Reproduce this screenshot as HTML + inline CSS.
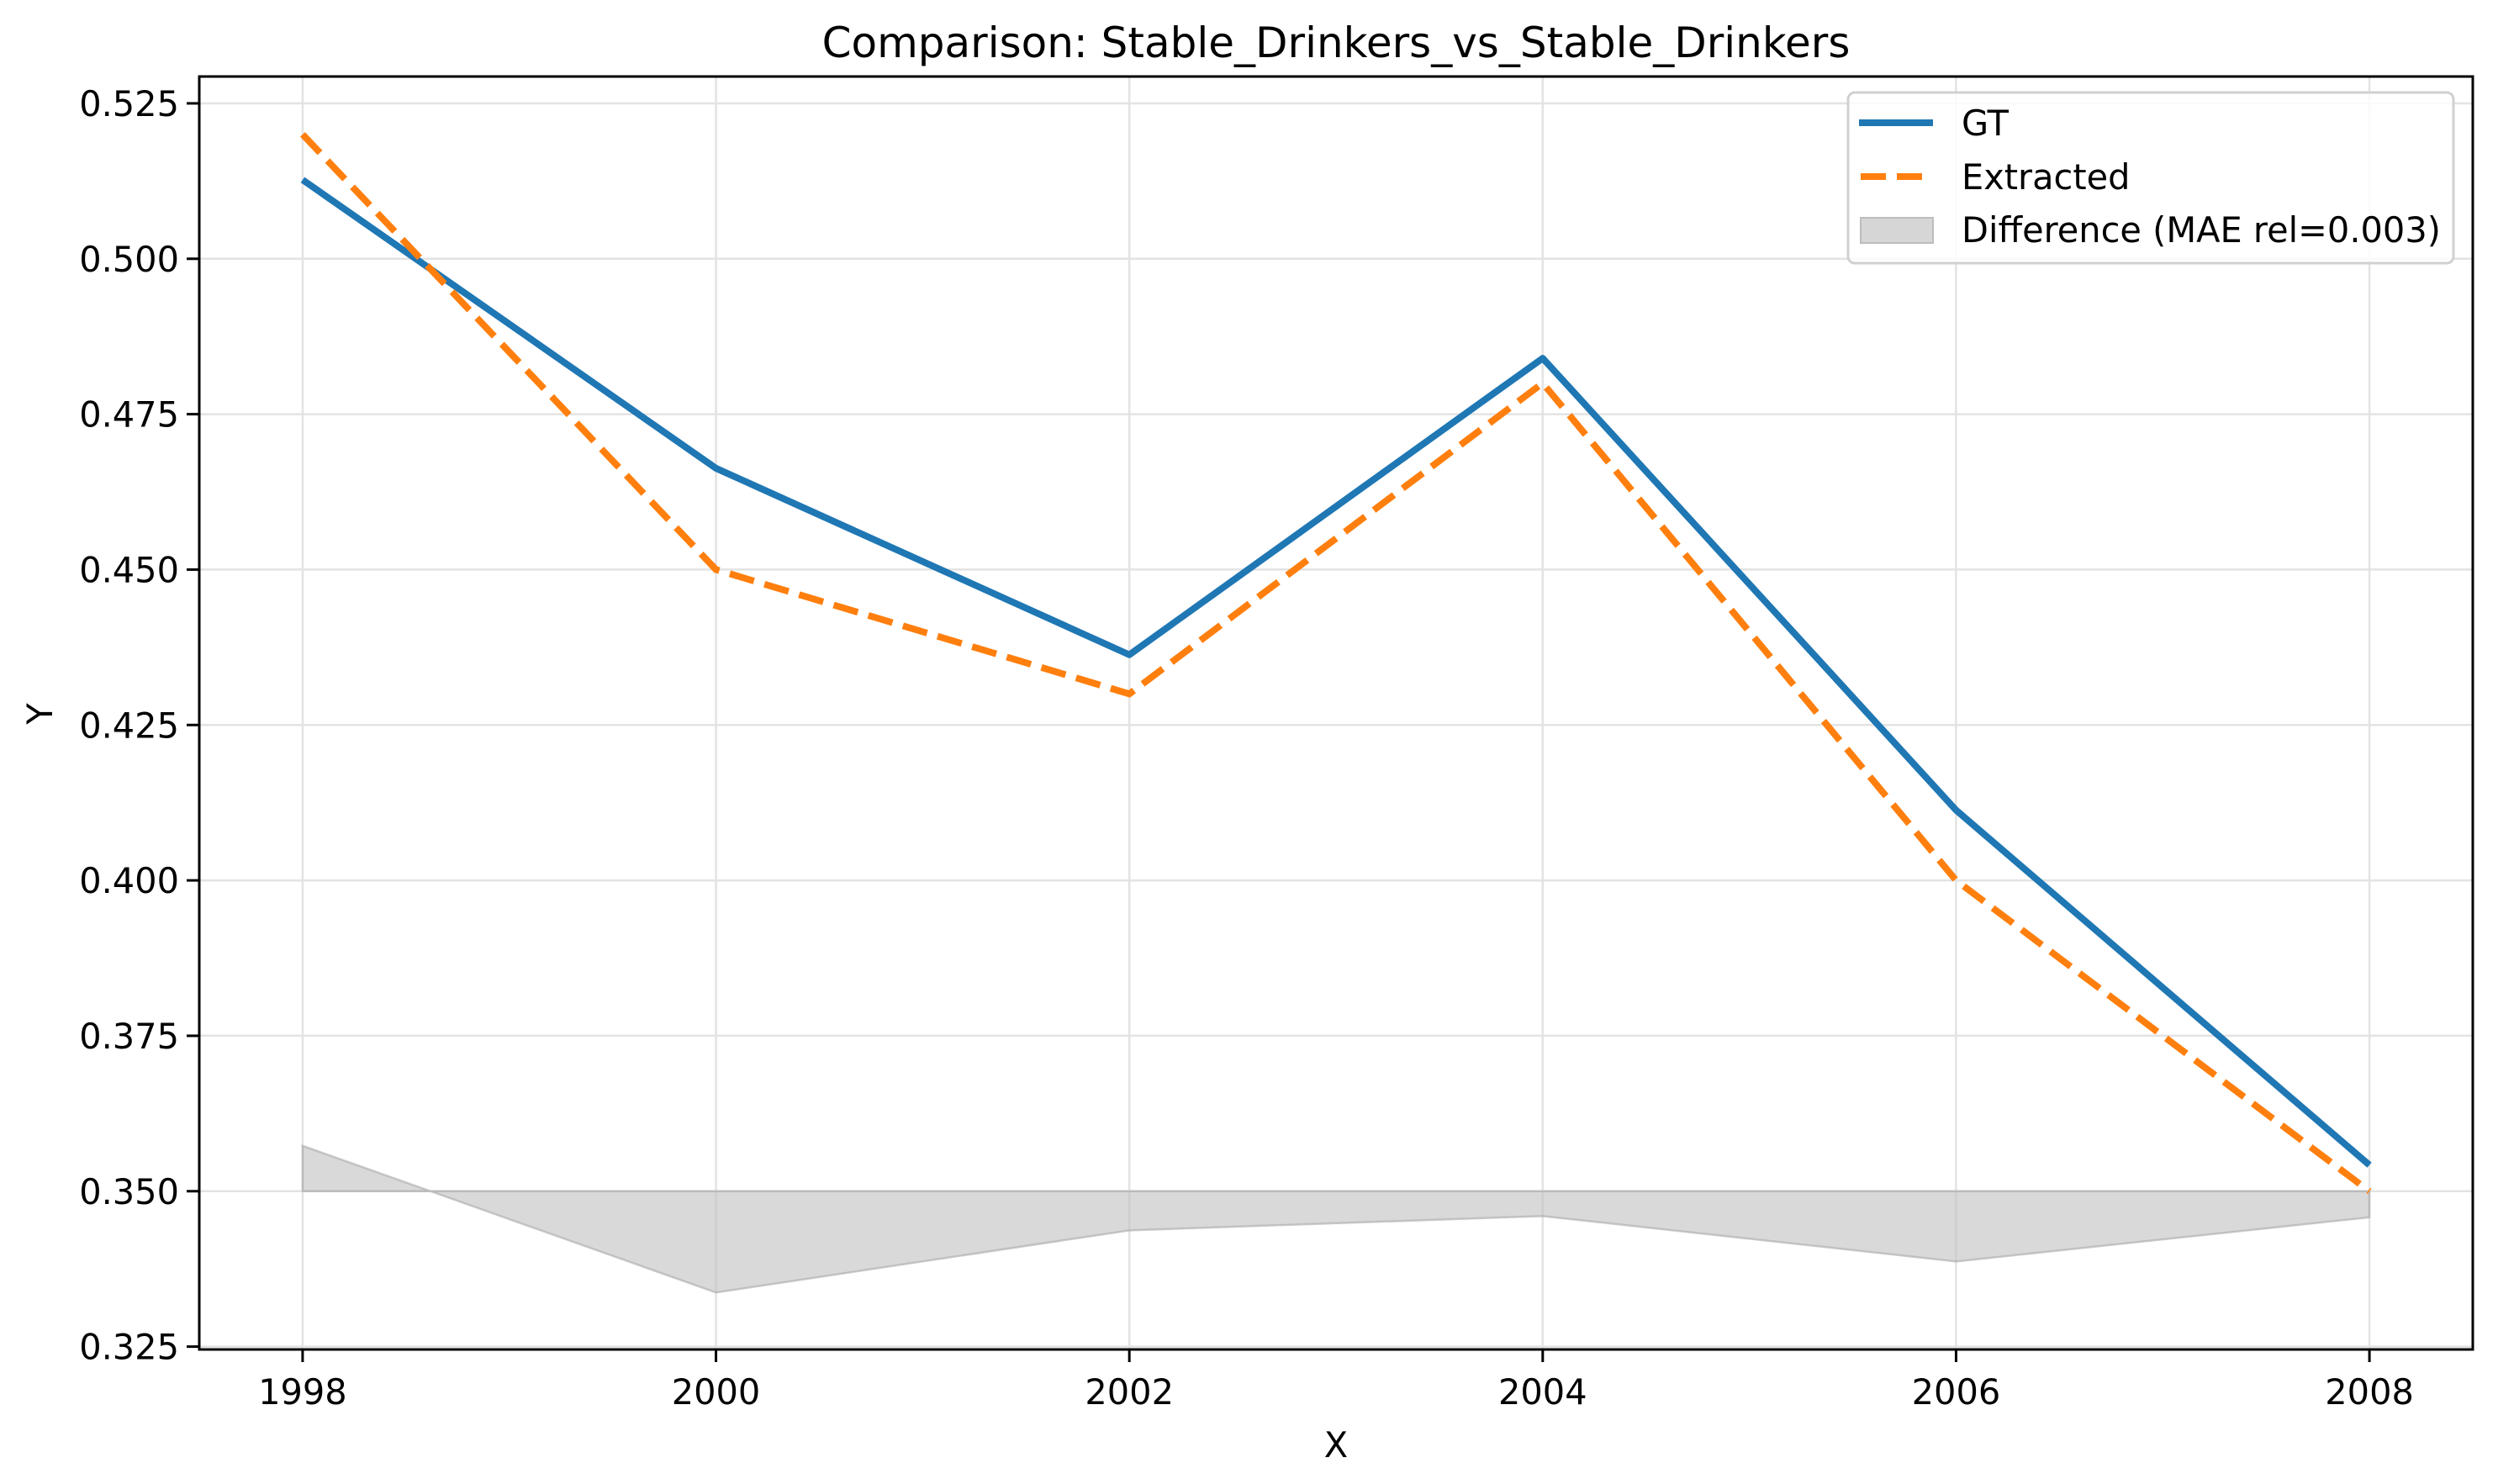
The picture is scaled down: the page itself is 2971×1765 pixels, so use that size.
<!DOCTYPE html>
<html><head><meta charset="utf-8"><style>
body{margin:0;background:#fff}
svg{display:block;font-family:"DejaVu Sans","Liberation Sans",sans-serif}
</style></head><body>
<svg id="chart" width="2971" height="1765" viewBox="0 0 2971 1765" xmlns="http://www.w3.org/2000/svg">
<rect width="2971" height="1765" fill="#fff"/>
<text x="1589" y="68" font-size="50" text-anchor="middle">Comparison: Stable_Drinkers_vs_Stable_Drinkers</text>
<g id="grid"></g>
<g id="fill"></g>
<g id="lines"></g>
<rect x="237" y="91" width="2704" height="1514" fill="none" stroke="#000" stroke-width="3"/>
<g id="ticks"></g>
<text x="1589" y="1733" font-size="41.5" text-anchor="middle">X</text>
<text transform="translate(62,849) rotate(-90)" font-size="41.5" text-anchor="middle">Y</text>
<g>
<rect x="2198" y="110" width="720" height="203" rx="8" fill="#fff" fill-opacity="0.8" stroke="#d0d0d0" stroke-width="3"/>
<line x1="2211" y1="146" x2="2299" y2="146" stroke="#1f77b4" stroke-width="8"/>
<text x="2333" y="161" font-size="41.5">GT</text>
<line x1="2213" y1="210" x2="2299" y2="210" stroke="#ff7f0e" stroke-width="8" stroke-dasharray="30,13"/>
<text x="2333" y="225" font-size="41.5">Extracted</text>
<rect x="2213" y="259" width="86" height="30" fill="#d6d6d6" stroke="#bdbdbd" stroke-width="2"/>
<text x="2333" y="288" font-size="41.5">Difference (MAE rel=0.003)</text>
</g>
</svg>
<script>
const years = [1998, 2000, 2002, 2004, 2006, 2008];
const gtValues = [0.5127, 0.4663, 0.4363, 0.4840, 0.4113, 0.3542];
const extractedValues = [0.520, 0.450, 0.430, 0.480, 0.400, 0.350];
const diffBaseline = 0.35;
const xTickLabels = ["1998", "2000", "2002", "2004", "2006", "2008"];
const yTickValues = [0.325, 0.350, 0.375, 0.400, 0.425, 0.450, 0.475, 0.500, 0.525];

const NS = "http://www.w3.org/2000/svg";
const L = 237, R = 2941, T = 91, B = 1605;
const xMin = 1997.5, xMax = 2008.5, yMin = 0.32454, yMax = 0.52932;
function xs(v){ return L + (v - xMin) / (xMax - xMin) * (R - L); }
function ys(v){ return B - (v - yMin) / (yMax - yMin) * (B - T); }
function mk(tag, attrs, parent){ const e = document.createElementNS(NS, tag); for (const k in attrs) e.setAttribute(k, attrs[k]); parent.appendChild(e); return e; }

const grid = document.getElementById("grid");
const ticks = document.getElementById("ticks");
xTickLabels.forEach((lab, i) => {
  const x = xs(years[i]);
  const g = mk("line", {x1:x, y1:T, x2:x, y2:B, stroke:"#e3e3e3", "stroke-width":2.5}, grid);
  
  
  const t = mk("line", {x1:x, y1:B, x2:x, y2:B+15, stroke:"#000", "stroke-width":3}, ticks);
  
  
  const tx = mk("text", {x:x, y:B+65, "font-size":41.5, "text-anchor":"middle"}, ticks);
  tx.textContent = lab;
  
  
});
yTickValues.forEach(v => {
  const y = ys(v);
  const g = mk("line", {x1:L, y1:y, x2:R, y2:y, stroke:"#e3e3e3", "stroke-width":2.5}, grid);
  
  
  const t = mk("line", {x1:L-15, y1:y, x2:L, y2:y, stroke:"#000", "stroke-width":3}, ticks);
  
  
  const tx = mk("text", {x:L-24, y:y+15, "font-size":41.5, "text-anchor":"end"}, ticks);
  tx.textContent = v.toFixed(3);
  
  
});

const fillG = document.getElementById("fill");
const upperPts = years.map((yr, i) => xs(yr) + "," + ys(diffBaseline + extractedValues[i] - gtValues[i]));
const lowerPts = years.slice().reverse().map(yr => xs(yr) + "," + ys(diffBaseline));
const poly = mk("polygon", {points: upperPts.concat(lowerPts).join(" "), fill:"#bfbfbf", "fill-opacity":0.6, stroke:"#a8a8a8", "stroke-opacity":0.6, "stroke-width":2.5}, fillG);



const linesG = document.getElementById("lines");
const gt = mk("polyline", {points: years.map((yr,i)=>xs(yr)+","+ys(gtValues[i])).join(" "), fill:"none", stroke:"#1f77b4", "stroke-width":8, "stroke-linejoin":"round"}, linesG);


const ex = mk("polyline", {points: years.map((yr,i)=>xs(yr)+","+ys(extractedValues[i])).join(" "), fill:"none", stroke:"#ff7f0e", "stroke-width":8, "stroke-dasharray":"30,13"}, linesG);


</script>
</body></html>
